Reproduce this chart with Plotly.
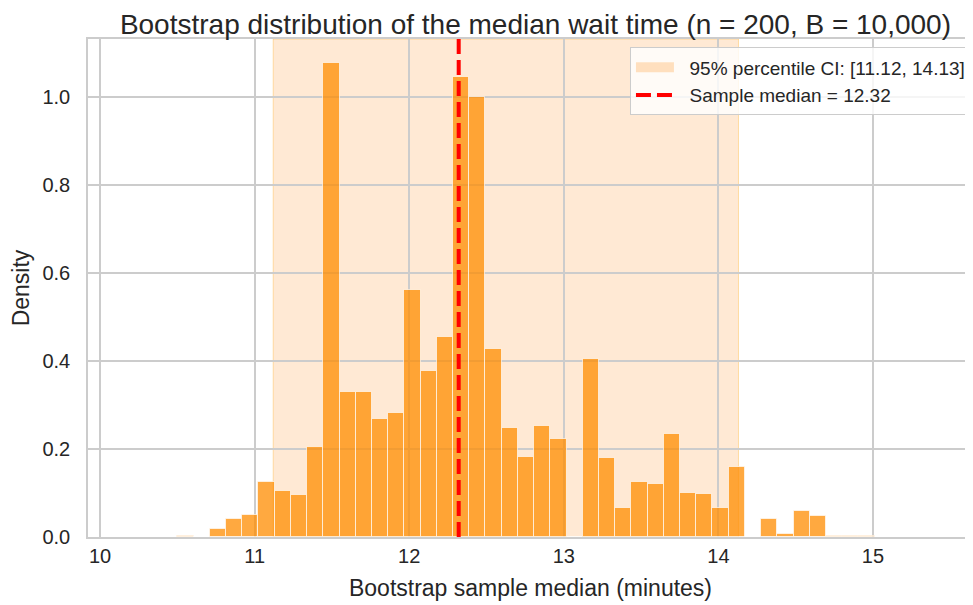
import numpy as np
import plotly.graph_objects as go

# ---- data ----
bin_start = 10.50          # left edge of first histogram bin (minutes)
bin_width = 0.1049         # histogram bin width (minutes)
density = [0.003, 0.0, 0.0186, 0.040, 0.049, 0.126, 0.105, 0.096, 0.204, 1.078,
           0.330, 0.330, 0.268, 0.281, 0.5615, 0.378, 0.454, 1.047, 1.0005, 0.427,
           0.248, 0.182, 0.252, 0.224, 0.0, 0.404, 0.180, 0.065, 0.126, 0.121,
           0.2335, 0.100, 0.098, 0.065, 0.159, 0.0, 0.040, 0.007, 0.059, 0.047,
           0.002, 0.002, 0.002]
ci_low, ci_high = 11.12, 14.13
sample_median = 12.32
x_ticks = [10, 11, 12, 13, 14, 15]
y_ticks = [0.0, 0.2, 0.4, 0.6, 0.8, 1.0]

bin_centers = bin_start + (np.arange(len(density)) + 0.5) * bin_width

FONT = "Liberation Sans, Arial, Helvetica, sans-serif"
TXT = "#262626"
GRID = "#cccccc"
CI_FILL = "rgba(255,145,40,0.2)"
CI_EDGE = "rgba(255,165,0,0.3)"
MED_DASH = "15px,6px"
PAD = "\u00a0\u00a0"

fig = go.Figure()
fig.add_trace(go.Bar(
    x=bin_centers, y=density, width=bin_width,
    marker=dict(color="rgba(255,140,0,0.75)",
                line=dict(color="rgba(255,255,255,0.65)", width=1)),
    showlegend=False, hoverinfo="x+y",
))

# legend entries (the marks themselves are drawn as shapes below)
fig.add_trace(go.Scatter(
    x=[None], y=[None], mode="lines",
    line=dict(color="rgba(255,160,60,0.3)", width=10),
    name=PAD + f"95% percentile CI: [{ci_low:.2f}, {ci_high:.2f}]"))
fig.add_trace(go.Scatter(
    x=[None], y=[None], mode="lines",
    line=dict(color="red", width=4, dash=MED_DASH),
    name=PAD + f"Sample median = {sample_median:.2f}"))

fig.add_shape(type="rect", xref="x", yref="paper", x0=ci_low, x1=ci_high, y0=0, y1=1,
              fillcolor=CI_FILL, line=dict(color=CI_EDGE, width=1), layer="below")
fig.add_shape(type="line", xref="x", yref="paper", x0=sample_median, x1=sample_median,
              y0=0, y1=1, line=dict(color="red", width=4, dash=MED_DASH), layer="above")

fig.update_layout(
    width=965, height=597,
    margin=dict(l=80, r=0, t=31, b=68),
    paper_bgcolor="white", plot_bgcolor="white",
    font=dict(family=FONT, color=TXT),
    bargap=0,
    title=dict(text="Bootstrap distribution of the median wait time (n = 200, B = 10,000)",
               x=0.5056, xref="paper", xanchor="center",
               y=1 - 16 / 597, yref="container", yanchor="middle",
               font=dict(size=28, color=TXT)),
    legend=dict(x=0.9977, xanchor="right", y=0.983, yanchor="top",
                bgcolor="rgba(255,255,255,0.8)", bordercolor=GRID, borderwidth=1,
                itemwidth=38,
                font=dict(size=19, color=TXT)),
    xaxis=dict(range=[9.922, 15.647], tickvals=x_ticks, ticktext=[str(v) for v in x_ticks],
               showgrid=True, gridcolor=GRID, gridwidth=1.5, zeroline=False,
               showline=True, linecolor=GRID, linewidth=1.5, mirror=True,
               ticks="", tickfont=dict(size=20, color=TXT),
               title=dict(text="Bootstrap sample median (minutes)", font=dict(size=23, color=TXT),
                          standoff=14),
               automargin=False),
    yaxis=dict(range=[0, 1.1326], tickvals=y_ticks, ticktext=[f"{v:.1f}" for v in y_ticks],
               showgrid=True, gridcolor=GRID, gridwidth=1.5, zeroline=False,
               showline=True, linecolor=GRID, linewidth=1.5, mirror=False,
               ticks="", tickfont=dict(size=20, color=TXT), ticklabelstandoff=12,
               title=dict(text="Density", font=dict(size=23, color=TXT), standoff=10),
               automargin=False),
)

fig.write_html("out.html")
